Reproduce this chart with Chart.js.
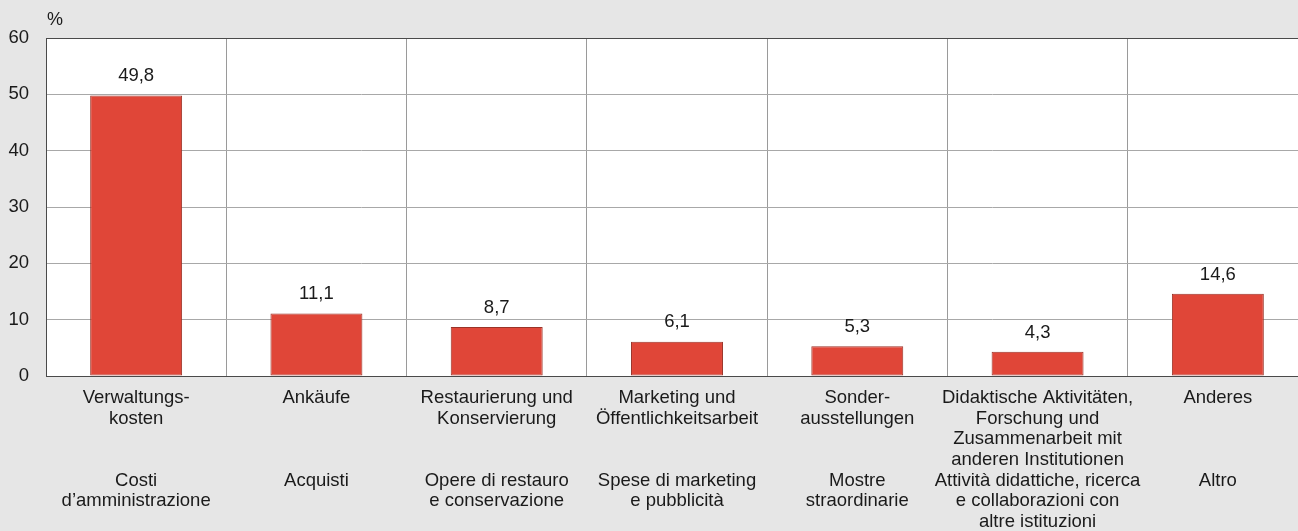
<!DOCTYPE html>
<html>
<head>
<meta charset="utf-8">
<script src="https://cdn.jsdelivr.net/npm/chart.js@4"></script>
<style>
  html, body { margin: 0; padding: 0; background: #e6e6e6; overflow: hidden; }
  #wrap { width: 1310px; height: 531px; position: relative; }
</style>
</head>
<body>
<div id="wrap"><canvas id="chart"></canvas></div>
<script>
// German label lines (padded to 4 lines), then Italian label lines
const germanLabels = [
	['Verwaltungs-', 'kosten'],
	['Ankäufe'],
	['Restaurierung und', 'Konservierung'],
	['Marketing und', 'Öffentlichkeitsarbeit'],
	['Sonder-', 'ausstellungen'],
	['Didaktische Aktivitäten,', 'Forschung und', 'Zusammenarbeit mit', 'anderen Institutionen'],
	['Anderes']
];
const italianLabels = [
	['Costi', 'd’amministrazione'],
	['Acquisti'],
	['Opere di restauro', 'e conservazione'],
	['Spese di marketing', 'e pubblicità'],
	['Mostre', 'straordinarie'],
	['Attività didattiche, ricerca', 'e collaborazioni con', 'altre istituzioni'],
	['Altro']
];
const values = [49.8, 11.1, 8.7, 6.1, 5.3, 4.3, 14.6];
const yTicks = [0, 10, 20, 30, 40, 50, 60];

const FONT = '"Liberation Sans", Arial, sans-serif';

const labels = germanLabels.map(function(de, i) {
	const lines = de.slice();
	while (lines.length < 4) lines.push('');
	return lines.concat(italianLabels[i]);
});

const bgPlugin = {
	id: 'plotBg',
	beforeDraw: function(chart) {
		const a = chart.chartArea;
		const c = chart.ctx;
		c.save();
		c.fillStyle = '#ffffff';
		c.fillRect(a.left, a.top, a.right - a.left, a.bottom - a.top);
		c.restore();
	}
};

const frame = {
	id: 'frame',
	afterDatasetsDraw: function(chart) {
		const a = chart.chartArea;
		const c = chart.ctx;
		c.save();
		c.strokeStyle = '#4a4a4a';
		c.lineWidth = 1;
		c.strokeRect(a.left + 0.5, a.top + 0.5, a.right - a.left - 1, a.bottom - a.top);
		// value labels
		c.fillStyle = '#1a1a1a';
		c.font = '18.5px ' + FONT;
		c.textAlign = 'center';
		c.textBaseline = 'bottom';
		chart.getDatasetMeta(0).data.forEach(function(bar, i) {
			c.fillText(values[i].toFixed(1).replace('.', ','), bar.x, bar.y - 10);
		});
		// unit
		c.textAlign = 'left';
		c.textBaseline = 'middle';
		c.font = '18px ' + FONT;
		c.fillText('%', a.left + 1, 20);
		c.restore();
	}
};

new Chart(document.getElementById('chart').getContext('2d'), {
	type: 'bar',
	data: {
		labels: labels,
		datasets: [{
			data: values,
			backgroundColor: '#e04638',
			borderColor: '#9a3328',
			borderWidth: 1,
			borderSkipped: false,
			barPercentage: 0.51,
			categoryPercentage: 1
		}]
	},
	options: {
		responsive: true,
		maintainAspectRatio: false,
		animation: false,
		layout: { padding: { top: 38, right: 2, left: 0, bottom: 0 } },
		plugins: {
			legend: { display: false },
			tooltip: { enabled: false }
		},
		scales: {
			x: {
				offset: true,
				grid: { color: '#9a9a9a', lineWidth: 1, drawTicks: false, offset: true },
				border: { display: false },
				ticks: {
					color: '#1a1a1a',
					padding: 12,
					maxRotation: 0,
					autoSkip: false,
					font: { family: FONT, size: 18.5, lineHeight: 1.11 }
				},
				afterFit: function(s) { s.height = 155; }
			},
			y: {
				min: 0,
				max: 60,
				afterBuildTicks: function(s) { s.ticks = yTicks.map(function(v) { return { value: v }; }); },
				grid: { color: '#a8a8a8', lineWidth: 1, drawTicks: false },
				border: { display: false },
				ticks: {
					color: '#1a1a1a',
					padding: 17,
					font: { family: FONT, size: 18.5 }
				},
				afterFit: function(s) { s.width = 46; }
			}
		}
	},
	plugins: [bgPlugin, frame]
});
</script>
</body>
</html>
